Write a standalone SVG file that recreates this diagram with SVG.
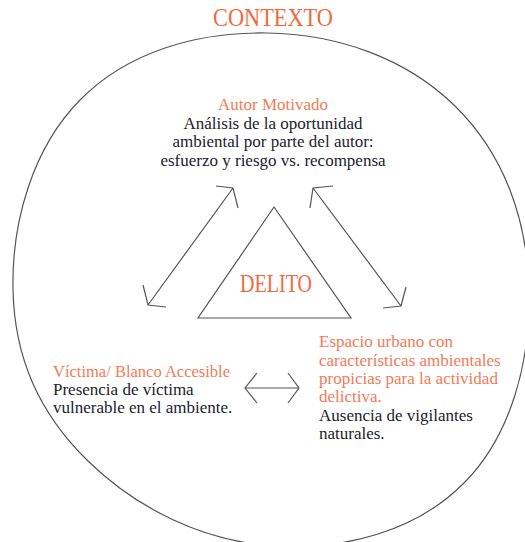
<svg xmlns="http://www.w3.org/2000/svg" width="525" height="542" viewBox="0 0 525 542">
<style>
.ctx{font-family:"Liberation Serif",serif;font-size:26px;fill:#f26a3d}
.lbl{font-family:"Liberation Serif",serif;font-size:17px;fill:#f47a56}
.txt{font-family:"Liberation Serif",serif;font-size:17px;fill:#22222e}
.ln{fill:none;stroke:#555;stroke-width:1.2}
</style>
<rect width="525" height="542" fill="#fff"/>
<g id="contexto">
<path class="ln" d="M267,33 C337.3,34.1 405.9,57.8 455,106 C504.1,154.2 527.3,219.3 529,290 C530.7,360.7 511.6,435 464,483 C416.4,531 345.5,550.1 275,546 C204.5,541.9 137.1,509 88,461 C38.9,413 14.5,357.7 13,290 C11.5,222.3 32.4,148.2 80,100 C127.6,51.8 196.7,31.9 267,33 Z"/>
<text class="ctx" x="273" y="26" text-anchor="middle" textLength="120" lengthAdjust="spacingAndGlyphs">CONTEXTO</text>
</g>
<g id="delito">
<polygon class="ln" points="274,207 198,318 351,318"/>
<text class="ctx" x="276" y="292" text-anchor="middle" font-size="24" textLength="72" lengthAdjust="spacingAndGlyphs">DELITO</text>
</g>
<g id="autor">
<text class="lbl" x="273" y="110" text-anchor="middle">Autor Motivado</text>
<text class="txt" x="273" y="128.5" text-anchor="middle">Análisis de la oportunidad</text>
<text class="txt" x="273" y="147" text-anchor="middle">ambiental por parte del autor:</text>
<text class="txt" x="273" y="165.5" text-anchor="middle">esfuerzo y riesgo vs. recompensa</text>
</g>
<g id="victima">
<text class="lbl" x="53" y="377" textLength="177" lengthAdjust="spacingAndGlyphs">Víctima/ Blanco Accesible</text>
<text class="txt" x="53" y="395">Presencia de víctima</text>
<text class="txt" x="53" y="413">vulnerable en el ambiente.</text>
</g>
<g id="espacio">
<text class="lbl" x="319" y="347">Espacio urbano con</text>
<text class="lbl" x="319" y="366">características ambientales</text>
<text class="lbl" x="319" y="384">propicias para la actividad</text>
<text class="lbl" x="319" y="402">delictiva.</text>
<text class="txt" x="319" y="421">Ausencia de vigilantes</text>
<text class="txt" x="319" y="439">naturales.</text>
</g>
<g id="connectors">
<path class="ln" d="M148,305 L233,188 M216,186 L233,188 L238,208 M143,285 L148,305 L166,307"/>
<path class="ln" d="M313,188 L401,306 M333,186 L313,188 L310,208 M406,287 L401,306 L383,308"/>
<path class="ln" d="M245,388 L299,388" stroke-width="2" stroke="#777"/>
<path class="ln" d="M257,373 L245,388 L257,403 M288,373 L299,388 L288,403"/>
</g>
</svg>
